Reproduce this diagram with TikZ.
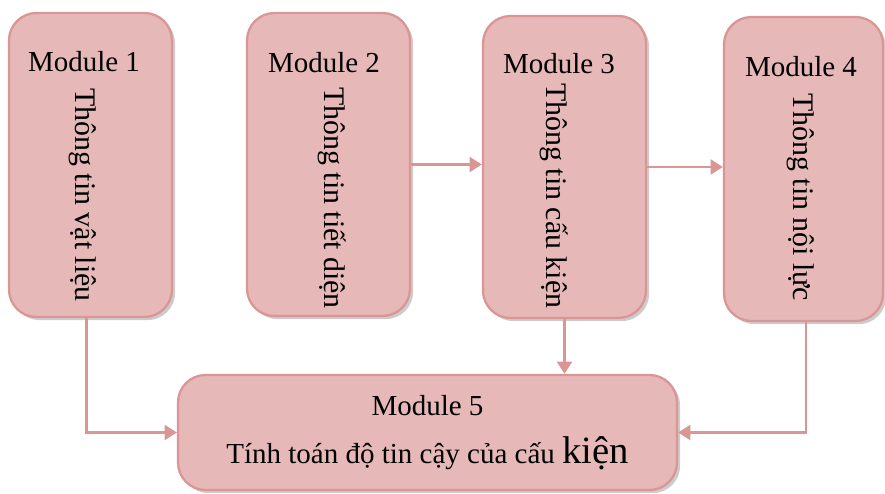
\documentclass[tikz,border=0pt]{standalone}
\usepackage{fontspec}
\setmainfont{Liberation Serif}
\usetikzlibrary{arrows.meta,shadows}
\definecolor{modfill}{RGB}{230, 185, 184}
\definecolor{modline}{RGB}{217, 150, 148}

\begin{document}
\begin{tikzpicture}[
    modbox/.style={draw=modline, line width=1.3pt, fill=modfill, rounded corners=0.55cm,
        drop shadow={opacity=0.4, shadow xshift=1.8pt, shadow yshift=-1.8pt}},
    modtitle/.style={font=\fontsize{16.5}{20}\selectfont, inner sep=0pt},
    modtext/.style={font=\fontsize{17}{20}\selectfont, rotate=-90, anchor=west, inner sep=0pt},
    link/.style={draw=modline, line width=1.5pt, -{Triangle[length=7pt,width=8.5pt]}}
]
    \useasboundingbox (0,0) rectangle (17.7,-9.88);

    % Modules 1-4
    \node[modbox, minimum width=3.26cm, minimum height=6.08cm] (m1) at (1.81,-3.30) {};
    \node[modbox, minimum width=3.26cm, minimum height=6.06cm] (m2) at (6.57,-3.29) {};
    \node[modbox, minimum width=3.26cm, minimum height=6.04cm] (m3) at (11.29,-3.34) {};
    \node[modbox, minimum width=3.18cm, minimum height=6.08cm] (m4) at (16.07,-3.38) {};

    \node[modtitle] (h1) at (1.68,-1.24) {Module 1};
    \node[modtitle] (h2) at (6.48,-1.26) {Module 2};
    \node[modtitle] (h3) at (11.18,-1.28) {Module 3};
    \node[modtitle] (h4) at (16.02,-1.34) {Module 4};

    \node[modtext] (t1) at (1.66,-1.76) {Thông tin vật liệu};
    \node[modtext] (t2) at (6.64,-1.74) {Thông tin tiết diện};
    \node[modtext] (t3) at (11.08,-1.66) {Thông tin cấu kiện};
    \node[modtext] (t4) at (16.02,-1.86) {Thông tin nội lực};

    % Module 5
    \node[modbox, minimum width=9.98cm, minimum height=2.3cm, align=center,
        font=\fontsize{16.5}{27}\selectfont] (m5) at (8.55,-8.65)
        {Module 5\\Tính toán độ tin cậy của cấu {\fontsize{22}{27}\selectfont kiện}};

    % Links
    \draw[link] (m2.east) -- (m2.east -| m3.west);
    \draw[link] (m3.east) -- (m3.east -| m4.west);
    \draw[link] ([xshift=-0.08cm]m1.south) |- (m5.west);
    \draw[link] (m3.south) -- (m3.south |- m5.north);
    \draw[link] ([xshift=0.05cm]m4.south) |- (m5.east);
\end{tikzpicture}
\end{document}
